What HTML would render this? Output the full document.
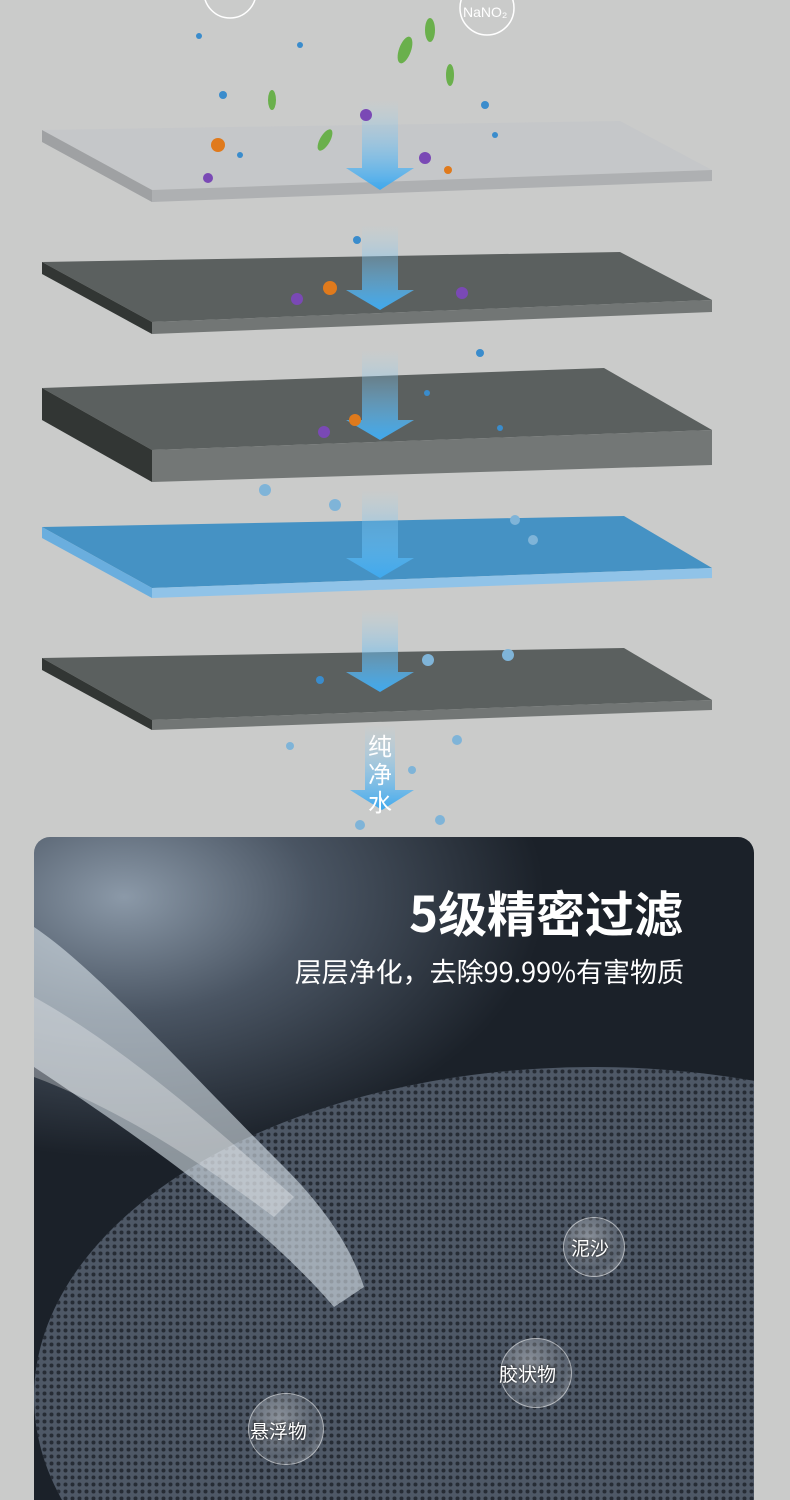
<!DOCTYPE html>
<html><head><meta charset="utf-8"><style>
html,body{margin:0;height:1500px;overflow:hidden}
body{width:790px;background:#cacbca;position:relative;font-family:"Liberation Sans","Noto Sans CJK SC",sans-serif}
svg{position:absolute;left:0;top:0}
.card{position:absolute;left:34px;top:837px;width:720px;height:663px;border-radius:16px 16px 0 0;overflow:hidden;
background:radial-gradient(ellipse 420px 260px at 90px 60px,#8b99a8 0%,#4a5563 45%,#1b2129 100%)}
.t1{position:absolute;right:107px;top:876px;color:#fff;font-size:49px;font-weight:bold;font-family:"Noto Sans CJK SC",sans-serif}
.t2{position:absolute;right:106px;top:951px;color:#fff;font-size:27px;font-family:"Noto Sans CJK SC",sans-serif}
.lab{position:absolute;color:#fff;font-size:19px;font-family:"Noto Sans CJK SC",sans-serif;text-shadow:0 0 3px #000}
.bub{position:absolute;border-radius:50%;background:radial-gradient(circle at 40% 35%,rgba(255,255,255,.35),rgba(255,255,255,.08) 60%,rgba(255,255,255,.4));border:1px solid rgba(255,255,255,.5)}
</style></head><body>
<div class="card">
<svg width="720" height="663" style="left:0;top:0">
<defs><pattern id="hx" width="7" height="7" patternUnits="userSpaceOnUse"><circle cx="3.5" cy="3.5" r="2" fill="#262c35"/></pattern></defs>
<ellipse cx="560" cy="560" rx="560" ry="330" fill="#4e5866"/>
<ellipse cx="560" cy="560" rx="560" ry="330" fill="url(#hx)"/>
<path d="M0 90 C60 130 150 230 250 330 C300 380 320 420 330 450 L300 470 C240 400 150 330 0 230Z" fill="#d8e2ea" opacity=".6"/>
<path d="M0 160 C90 210 180 290 260 360 L240 380 C160 320 80 270 0 240Z" fill="#fff" opacity=".3"/>
</svg>
</div>
<div class="t1">5级精密过滤</div>
<div class="t2">层层净化，去除99.99%有害物质</div>
<div class="bub" style="left:563px;top:1217px;width:60px;height:58px"></div><div class="lab" style="left:571px;top:1234px">泥沙</div>
<div class="bub" style="left:500px;top:1338px;width:70px;height:68px"></div><div class="lab" style="left:499px;top:1360px">胶状物</div>
<div class="bub" style="left:248px;top:1393px;width:74px;height:70px"></div><div class="lab" style="left:250px;top:1417px">悬浮物</div>
<svg width="790" height="840">
<defs><linearGradient id="ar" x1="0" y1="0" x2="0" y2="1"><stop offset="0" stop-color="#9fd6f5" stop-opacity="0"/><stop offset="1" stop-color="#3fa9ee"/></linearGradient></defs>
<circle cx="230" cy="-8" r="26" fill="none" stroke="#fff" stroke-width="1.5"/>
<circle cx="487" cy="8" r="27" fill="none" stroke="#fff" stroke-width="1.5"/>
<text x="463" y="17" fill="#fff" font-size="14" font-family="Liberation Sans">NaNO₂</text>
<polygon points="42,130 620,121 712,170 152,190" fill="#c5c7c9"/>
<polygon points="152,190 712,170 712,181 152,202" fill="#aeb0b2"/>
<polygon points="42,130 152,190 152,202 42,142" fill="#9fa1a3"/>
<polygon points="42,262 620,252 712,300 152,322" fill="#5b605f"/>
<polygon points="152,322 712,300 712,312 152,334" fill="#727675"/>
<polygon points="42,262 152,322 152,334 42,274" fill="#323634"/>
<polygon points="42,388 604,368 712,430 152,450" fill="#5b605f"/>
<polygon points="152,450 712,430 712,465 152,482" fill="#737776"/>
<polygon points="42,388 152,450 152,482 42,420" fill="#323634"/>
<polygon points="42,527 624,516 712,568 152,588" fill="#4592c4"/>
<polygon points="152,588 712,568 712,578 152,598" fill="#90c3e8"/>
<polygon points="42,527 152,588 152,598 42,538" fill="#6aaede"/>
<polygon points="42,658 624,648 712,700 152,720" fill="#5b605f"/>
<polygon points="152,720 712,700 712,710 152,730" fill="#727675"/>
<polygon points="42,658 152,720 152,730 42,670" fill="#323634"/>
<g fill="url(#ar)">
<path d="M362 100 H398 V168 H414 L380 190 L346 168 H362Z"/>
<path d="M362 225 H398 V290 H414 L380 310 L346 290 H362Z"/>
<path d="M362 350 H398 V420 H414 L380 440 L346 420 H362Z"/>
<path d="M362 490 H398 V558 H414 L380 578 L346 558 H362Z"/>
<path d="M362 610 H398 V672 H414 L380 692 L346 672 H362Z"/>
<path d="M365 725 H395 V790 H414 L382 810 L350 790 H365Z"/>
</g>
<g fill="#fff" font-size="24" font-family="Noto Sans CJK SC"><text x="368" y="755">纯</text><text x="368" y="783">净</text><text x="368" y="811">水</text></g>
<g fill="#3a8ccc">
<circle cx="199" cy="36" r="3"/><circle cx="223" cy="95" r="4"/><circle cx="240" cy="155" r="3"/><circle cx="300" cy="45" r="3"/><circle cx="485" cy="105" r="4"/><circle cx="495" cy="135" r="3"/><circle cx="357" cy="240" r="4"/><circle cx="480" cy="353" r="4"/><circle cx="500" cy="428" r="3"/><circle cx="427" cy="393" r="3"/><circle cx="265" cy="490" r="6" fill="#7fb4d8"/><circle cx="335" cy="505" r="6" fill="#7fb4d8"/><circle cx="515" cy="520" r="5" fill="#7fb4d8"/><circle cx="533" cy="540" r="5" fill="#7fb4d8"/><circle cx="428" cy="660" r="6" fill="#7fb4d8"/><circle cx="508" cy="655" r="6" fill="#7fb4d8"/><circle cx="457" cy="740" r="5" fill="#7fb4d8"/><circle cx="290" cy="746" r="4" fill="#7fb4d8"/><circle cx="412" cy="770" r="4" fill="#7fb4d8"/><circle cx="440" cy="820" r="5" fill="#7fb4d8"/><circle cx="360" cy="825" r="5" fill="#7fb4d8"/><circle cx="320" cy="680" r="4"/>
</g>
<g fill="#6ab04c"><ellipse cx="405" cy="50" rx="6" ry="14" transform="rotate(20 405 50)"/><ellipse cx="430" cy="30" rx="5" ry="12"/><ellipse cx="325" cy="140" rx="5" ry="12" transform="rotate(30 325 140)"/><ellipse cx="272" cy="100" rx="4" ry="10"/><ellipse cx="450" cy="75" rx="4" ry="11"/></g>
<g fill="#7a49b5"><circle cx="366" cy="115" r="6"/><circle cx="425" cy="158" r="6"/><circle cx="297" cy="299" r="6"/><circle cx="462" cy="293" r="6"/><circle cx="324" cy="432" r="6"/><circle cx="208" cy="178" r="5"/></g>
<g fill="#e07a1c"><circle cx="218" cy="145" r="7"/><circle cx="330" cy="288" r="7"/><circle cx="355" cy="420" r="6"/><circle cx="448" cy="170" r="4"/></g>
</svg>
</body></html>
